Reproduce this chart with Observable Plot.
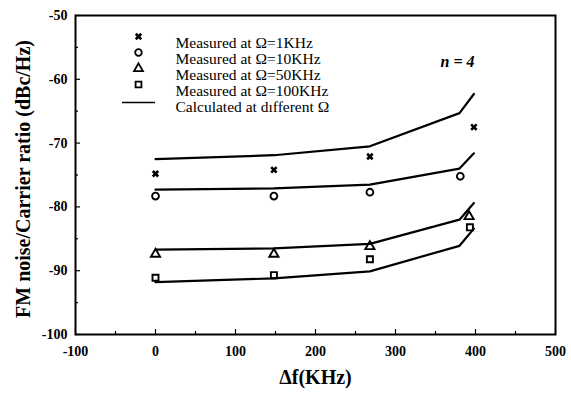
<!DOCTYPE html>
<html>
<head>
<meta charset="utf-8">
<script src="https://cdn.jsdelivr.net/npm/d3@7"></script>
<script src="https://cdn.jsdelivr.net/npm/@observablehq/plot@0.6"></script>
<style>
  html, body { margin: 0; padding: 0; background: white; }
  svg text { font-family: 'Liberation Serif', 'DejaVu Serif', serif; }
</style>
</head>
<body>
<div id="chart"></div>
<script>
// ---- data ----
const seriesNames = ["Measured at Ω=1KHz", "Measured at Ω=10KHz", "Measured at Ω=50KHz", "Measured at Ω=100KHz"];
const seriesSymbols = ["times", "circle", "triangle", "square"];

const measX1 = [0, 148, 268, 398];
const measY1 = [-74.8, -74.2, -72.1, -67.5];
const measX10 = [0, 148, 268, 381];
const measY10 = [-78.3, -78.3, -77.7, -75.2];
const measX50 = [0, 148, 268, 392];
const measY50 = [-87.4, -87.4, -86.2, -81.5];
const measX100 = [0, 148, 268, 393];
const measY100 = [-91.1, -90.7, -88.2, -83.2];

const calcX = [0, 148, 268, 380, 398];
const calcY1 = [-72.5, -71.9, -70.5, -65.3, -62.3];
const calcY10 = [-77.3, -77.1, -76.5, -74.0, -71.6];
const calcY50 = [-86.7, -86.5, -85.8, -82.0, -79.4];
const calcY100 = [-91.8, -91.2, -90.1, -86.1, -83.4];

const xMajorTicks = [-100, 0, 100, 200, 300, 400, 500];
const xMinorTicks = [-50, 50, 150, 250, 350, 450];
const yMajorTicks = [-100, -90, -80, -70, -60, -50];
const yMinorTicks = [-95, -85, -75, -65, -55];
const calcLabel = "Calculated at dıfferent Ω";
const annotation = "n = 4";
const xTitle = "Δf(KHz)";
const yTitle = "FM noise/Carrier ratio (dBc/Hz)";

// ---- tables ----
const measured = [];
[[measX1, measY1], [measX10, measY10], [measX50, measY50], [measX100, measY100]].forEach(([xs, ys], i) => {
  xs.forEach((x, j) => measured.push({series: seriesNames[i], symbol: seriesSymbols[i], x, y: ys[j]}));
});
const calculated = [];
[calcY1, calcY10, calcY50, calcY100].forEach((ys, i) => {
  calcX.forEach((x, j) => calculated.push({series: seriesNames[i], x, y: ys[j]}));
});

const serif = "'Liberation Serif', 'DejaVu Serif', serif";
const lineSymbol = { draw(ctx) { ctx.moveTo(-16.5, 0); ctx.lineTo(16.5, 0); } };

// legend layout (pixels relative to frame top-left)
const legRowDy = [21, 37, 53, 69, 85];
const legendMarks = [];
seriesNames.forEach((name, i) => {
  const sym = seriesSymbols[i];
  legendMarks.push(Plot.dot([name], {
    frameAnchor: "top-left", dx: 63, dy: legRowDy[i], symbol: sym,
    r: sym === "times" ? 2.6 : 3.3, stroke: "black", strokeWidth: sym === "times" ? 2.6 : 1.8, fill: "none"
  }));
  legendMarks.push(Plot.text([name], {
    frameAnchor: "top-left", dx: 100, dy: legRowDy[i], text: d => d, textAnchor: "start",
    fontSize: 15.5, fontFamily: serif, fill: "black"
  }));
});
legendMarks.push(Plot.dot([calcLabel], {
  frameAnchor: "top-left", dx: 63, dy: legRowDy[4] + 2, symbol: lineSymbol, r: 3, stroke: "black", strokeWidth: 1.3
}));
legendMarks.push(Plot.text([calcLabel], {
  frameAnchor: "top-left", dx: 100, dy: legRowDy[4], text: d => d, textAnchor: "start", fontSize: 15.5, fontFamily: serif, fill: "black"
}));

const chart = Plot.plot({
  width: 571,
  height: 400,
  marginLeft: 75,
  marginRight: 16,
  marginTop: 15,
  marginBottom: 66,
  style: { fontFamily: serif, background: "white", color: "black" },
  x: { domain: [-100, 500] },
  y: { domain: [-100, -50] },
  symbol: { domain: seriesSymbols, range: seriesSymbols },
  marks: [
    Plot.axisX({ ticks: xMinorTicks, tickSize: -3, text: null, label: null, strokeWidth: 1.2 }),
    Plot.axisX({ ticks: xMajorTicks, tickSize: -5, tickPadding: 17, tickFormat: d => String(d),
      fontSize: 14, fontWeight: "bold", fontFamily: serif, label: null, strokeWidth: 1.2 }),
    Plot.axisY({ ticks: yMinorTicks, tickSize: -3, text: null, label: null, strokeWidth: 1.2 }),
    Plot.axisY({ ticks: yMajorTicks, tickSize: -5, tickPadding: 13, tickFormat: d => String(d),
      fontSize: 14, fontWeight: "bold", fontFamily: serif, label: null, strokeWidth: 1.2 }),
    Plot.frame({ stroke: "black", strokeWidth: 2 }),
    Plot.line(calculated, { x: "x", y: "y", z: "series", stroke: "black", strokeWidth: 2.2, curve: "linear" }),
    Plot.dot(measured.filter(d => d.symbol === "times"), { x: "x", y: "y", symbol: "symbol", r: 2.6, stroke: "black", strokeWidth: 2.6, fill: "none" }),
    Plot.dot(measured.filter(d => d.symbol !== "times"), { x: "x", y: "y", symbol: "symbol", r: 3.4, stroke: "black", strokeWidth: 1.9, fill: "none" }),
    ...legendMarks,
    Plot.text([annotation], { frameAnchor: "top-left", dx: 382, dy: 40, text: d => d, fontSize: 16, fontFamily: serif,
      fontWeight: "bold", fontStyle: "italic", textAnchor: "middle", fill: "black" }),
    Plot.text([xTitle], { frameAnchor: "bottom", dy: 49, text: d => d, fontSize: 20, fontFamily: serif, fontWeight: "bold", fill: "black" }),
    Plot.text([yTitle], { frameAnchor: "left", dx: -52, dy: 4, rotate: -90, textAnchor: "middle", text: d => d, fontSize: 20, fontFamily: serif, fontWeight: "bold", fill: "black" })
  ]
});
document.getElementById("chart").appendChild(chart);
</script>
</body>
</html>
